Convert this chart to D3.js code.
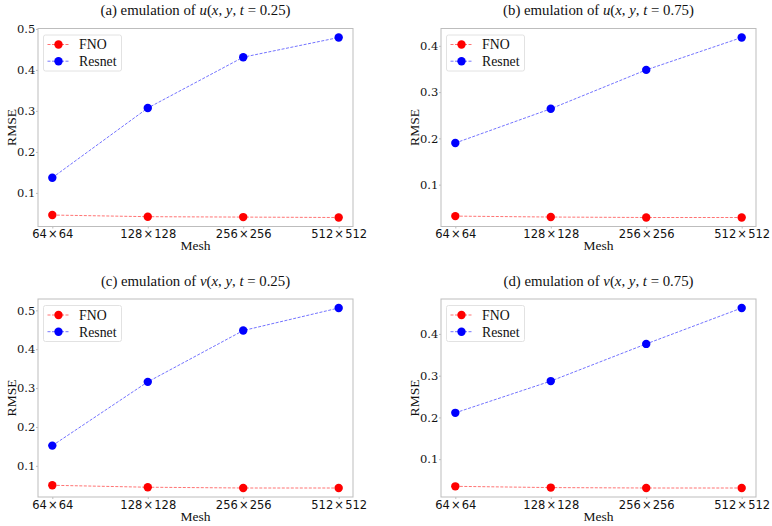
<!DOCTYPE html>
<html>
<head>
<meta charset="utf-8">
<script src="https://cdn.jsdelivr.net/npm/d3@7"></script>
<style>
  body { margin: 0; background: #fff; }
  text { font-family: "Liberation Serif", serif; fill: #111; }
</style>
</head>
<body>
<script>
// mesh sizes on the x axis
const MESHES = ["64\u200a×\u200a64", "128\u200a×\u200a128", "256\u200a×\u200a256", "512\u200a×\u200a512"];
const SERIES = ["FNO", "Resnet"];
const COLORS = ["#ff0000", "#0000ff"];

// RMSE
const FNO_U25 = [0.046, 0.042, 0.041, 0.040];
const RESNET_U25 = [0.137, 0.307, 0.431, 0.479];
const FNO_U75 = [0.032, 0.030, 0.029, 0.029];
const RESNET_U75 = [0.190, 0.264, 0.348, 0.418];
const FNO_V25 = [0.050, 0.045, 0.043, 0.043];
const RESNET_V25 = [0.152, 0.316, 0.448, 0.506];
const FNO_V75 = [0.035, 0.032, 0.031, 0.031];
const RESNET_V75 = [0.211, 0.287, 0.376, 0.462];

const LETTERS = ["a", "b", "c", "d"];
const FIELDS = ["u", "u", "v", "v"];
const TIMES = ["0.25", "0.75", "0.25", "0.75"];
const VALUES = [
  [FNO_U25, RESNET_U25],
  [FNO_U75, RESNET_U75],
  [FNO_V25, RESNET_V25],
  [FNO_V75, RESNET_V75]
];

const width = 772,
  height = 526,
  plotW = 315,
  plotH = 198,
  lefts = [38, 441],
  tops = [28.5, 299],
  frameColor = "#bdbdbd";

const svg = d3
  .select("body")
  .append("svg")
  .attr("width", width)
  .attr("height", height);

VALUES.forEach((vals, i) => {
  const left = lefts[i % 2],
    top = tops[Math.floor(i / 2)];

  const g = svg.append("g").attr("transform", `translate(${left}, ${top})`);

  const xScale = d3
    .scalePoint()
    .domain(MESHES)
    .range([0, plotW])
    .padding(0.15);

  // matplotlib style 5% margins
  const all = vals.flat();
  const [lo, hi] = d3.extent(all);
  const pad = (hi - lo) * 0.05;
  const yScale = d3
    .scaleLinear()
    .domain([lo - pad, hi + pad])
    .range([plotH, 0]);

  const xAxis = d3.axisBottom(xScale).tickSize(2).tickPadding(1.5);
  const gx = g
    .append("g")
    .attr("transform", `translate(0, ${plotH})`)
    .call(xAxis)
    .call(a => a.select(".domain").remove());
  gx.selectAll("line").attr("stroke", frameColor);
  gx.selectAll("text")
    .style("font-size", "11.5px")
    .style("font-family", "'DejaVu Sans', sans-serif")
    .attr("fill", "#111");

  const yAxis = d3
    .axisLeft(yScale)
    .ticks(5)
    .tickFormat(d3.format(".1f"))
    .tickSize(2)
    .tickPadding(0.8);
  const gy = g
    .append("g")
    .call(yAxis)
    .call(a => a.select(".domain").remove());
  gy.selectAll("line").attr("stroke", frameColor);
  gy.selectAll("text")
    .style("font-size", "11.5px")
    .style("font-family", "'DejaVu Serif', serif")
    .attr("fill", "#111");

  g.append("rect")
    .attr("width", plotW)
    .attr("height", plotH)
    .attr("fill", "none")
    .attr("stroke", frameColor)
    .attr("stroke-width", 1);

  const line = d3
    .line()
    .x((d, j) => xScale(MESHES[j]))
    .y(d => yScale(d));

  vals.forEach((s, k) => {
    g.append("path")
      .datum(s)
      .attr("d", line)
      .attr("fill", "none")
      .attr("stroke", COLORS[k])
      .attr("stroke-opacity", 0.55)
      .attr("stroke-width", 1)
      .attr("stroke-dasharray", "3,1.5");
    g.selectAll(null)
      .data(s)
      .join("circle")
      .attr("cx", (d, j) => xScale(MESHES[j]))
      .attr("cy", d => yScale(d))
      .attr("r", 4.2)
      .attr("fill", COLORS[k]);
  });

  // legend
  const lg = g.append("g").attr("transform", "translate(5.5, 6.5)");
  lg.append("rect")
    .attr("width", 78)
    .attr("height", 36)
    .attr("rx", 2)
    .attr("fill", "#fff")
    .attr("stroke", "#e2e2e2");
  SERIES.forEach((name, k) => {
    const y = 9.5 + k * 16.7;
    lg.append("line")
      .attr("x1", 4)
      .attr("x2", 26)
      .attr("y1", y)
      .attr("y2", y)
      .attr("stroke", COLORS[k])
      .attr("stroke-opacity", 0.55)
      .attr("stroke-dasharray", "3,1.5");
    lg.append("circle")
      .attr("cx", 15)
      .attr("cy", y)
      .attr("r", 4.2)
      .attr("fill", COLORS[k]);
    lg.append("text")
      .attr("x", 35.5)
      .attr("y", y)
      .attr("dy", "0.35em")
      .style("font-size", "13.8px")
      .text(name);
  });

  // title with math italics
  const title = g
    .append("text")
    .attr("x", plotW / 2)
    .attr("y", -13.5)
    .attr("text-anchor", "middle")
    .style("font-size", "14.8px");
  title.append("tspan").text(`(${LETTERS[i]}) emulation of `);
  title.append("tspan").style("font-style", "italic").text(FIELDS[i]);
  title.append("tspan").text("(");
  title.append("tspan").style("font-style", "italic").text("x");
  title.append("tspan").text(", ");
  title.append("tspan").style("font-style", "italic").text("y");
  title.append("tspan").text(", ");
  title.append("tspan").style("font-style", "italic").text("t");
  title.append("tspan").text(` = ${TIMES[i]})`);

  g.append("text")
    .attr("x", plotW / 2)
    .attr("y", plotH + 23.5)
    .attr("text-anchor", "middle")
    .style("font-size", "13.5px")
    .text("Mesh");

  g.append("text")
    .attr("transform", `translate(-26.5, ${plotH / 2}) rotate(-90)`)
    .attr("text-anchor", "middle")
    .attr("dy", "0.35em")
    .style("font-size", "13.5px")
    .text("RMSE");
});
</script>
</body>
</html>
